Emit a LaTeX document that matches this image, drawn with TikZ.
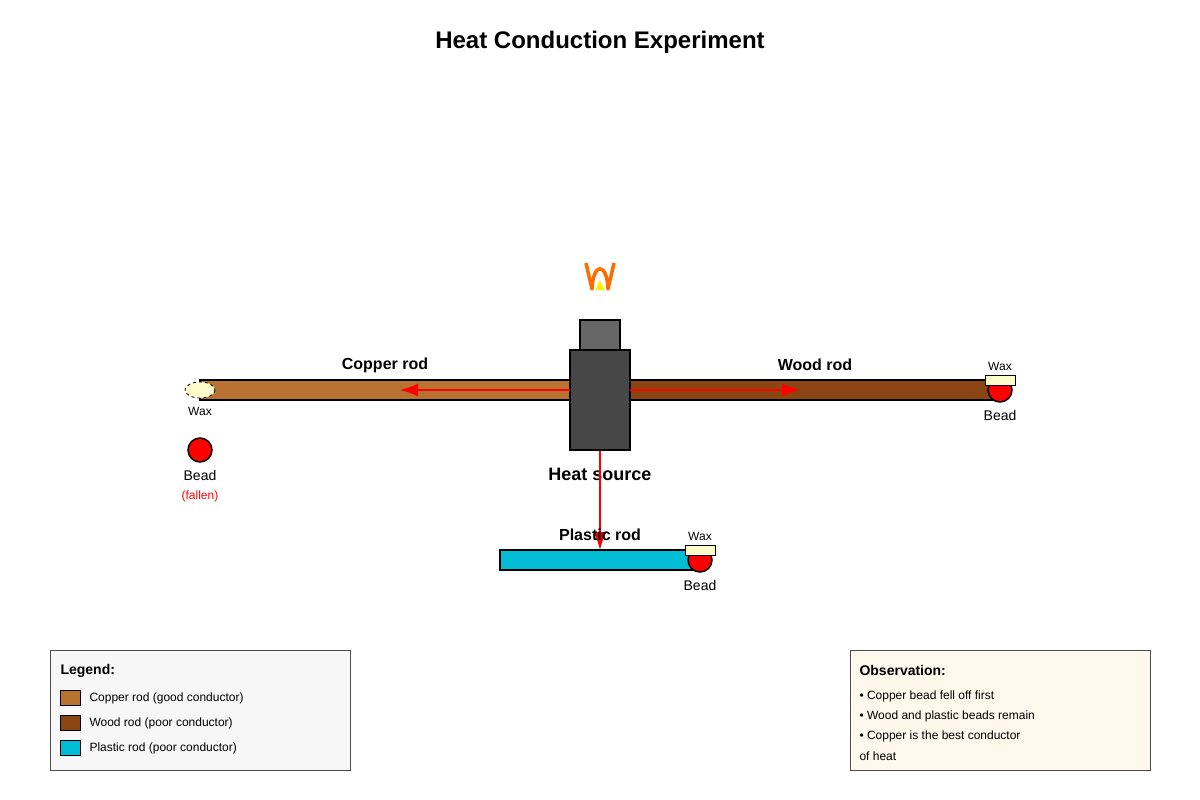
\documentclass[tikz,border=0pt]{standalone}
\usepackage{fontspec}
\setmainfont{Liberation Sans}
\usetikzlibrary{arrows.meta}
\begin{document}
\begin{tikzpicture}[x=1pt,y=-1pt,
 lbl/.style={font=\fontsize{16}{18}\selectfont\bfseries},
 sm/.style={font=\fontsize{14}{16}\selectfont},
 tiny/.style={font=\fontsize{12}{14}\selectfont},
 leg/.style={font=\fontsize{12}{14}\selectfont,anchor=west},
 rod/.style={draw=black,line width=1.5pt},
 bead/.style={circle,draw=black,line width=1.5pt,fill=red,minimum size=24pt,inner sep=0pt},
 wax/.style={draw=black,fill=yellow!20,line width=0.8pt},
 arr/.style={red,line width=1.5pt,-{Latex[length=18pt,width=13pt]}}]
\definecolor{copper}{HTML}{B87333}
\definecolor{wood}{HTML}{8B4513}
\definecolor{plastic}{HTML}{00BCD4}
\useasboundingbox (0,0) rectangle (1200,800);
\node[font=\fontsize{24}{28}\selectfont\bfseries] (title) at (600,42) {Heat Conduction Experiment};
% rods
\draw[rod,fill=copper] (200,380) rectangle (570,400);
\draw[rod,fill=wood] (630,380) rectangle (1000,400);
\draw[rod,fill=plastic] (500,550) rectangle (700,570);
\node[lbl] (cl) at (385,365) {Copper rod};
\node[lbl] (wl) at (815,365) {Wood rod};
% heat source
\draw[line width=1.5pt,fill=black!60] (580,320) rectangle (620,350);
\node[draw=black,line width=1.5pt,fill=black!72,minimum width=60pt,minimum height=100pt,inner sep=0pt] (hs) at (600,400) {};
\node[lbl,font=\fontsize{18}{20}\selectfont\bfseries] (hsl) at (600,474) {Heat source};
% flame
\draw[orange!85!red,line width=3.5pt,line join=round] (586,263) -- (592,289) .. controls (593,262) and (607,262) .. (608,289) -- (614,263);
\fill[yellow] (595.5,290) -- (600,280) -- (604.5,290) -- cycle;
% arrows
\coordinate (hl) at (570,390); \coordinate (hr) at (630,390);
\coordinate (al) at (400,390); \coordinate (ar) at (800,390); \coordinate (ad) at (600,550);
\draw[arr] (hl) -- (al);
\draw[arr] (hr) -- (ar);
\draw[arr] (hs.south) -- (ad);
\node[lbl] (pl) at (600,535) {Plastic rod};
% beads and wax
\node[bead] (b1) at (200,450) {};
\node[sm] at (200,475) {Bead};
\node[font=\fontsize{12}{14}\selectfont,text=red] at (200,496) {(fallen)};
\draw[wax,dashed] (200,390) ellipse (15 and 8);
\node[tiny] at (200,411) {Wax};
\node[bead] (b2) at (1000,390) {};
\draw[wax] (985,375) rectangle (1015,385);
\node[tiny] at (1000,366) {Wax};
\node[sm] at (1000,415) {Bead};
\node[bead] (b3) at (700,560) {};
\draw[wax] (685,545) rectangle (715,555);
\node[tiny] at (700,536) {Wax};
\node[sm] at (700,585) {Bead};
% legend
\draw[black!70,line width=1pt,fill=black!3] (50,650) rectangle (350,770);
\node[font=\fontsize{14}{16}\selectfont\bfseries,anchor=west] at (57,671) {Legend:};
\draw[line width=1pt,fill=copper] (60,690) rectangle (80,705);
\node[leg] at (86,698) {Copper rod (good conductor)};
\draw[line width=1pt,fill=wood] (60,715) rectangle (80,730);
\node[leg] at (86,723) {Wood rod (poor conductor)};
\draw[line width=1pt,fill=plastic] (60,740) rectangle (80,755);
\node[leg] at (86,748) {Plastic rod (poor conductor)};
% observation
\draw[black!70,line width=1pt,fill=yellow!12!orange!6] (850,650) rectangle (1150,770);
\node[font=\fontsize{14}{16}\selectfont\bfseries,anchor=west] at (856,670) {Observation:};
\node[leg] at (856,696) {• Copper bead fell off first};
\node[leg] at (856,716) {• Wood and plastic beads remain};
\node[leg] at (856,736) {• Copper is the best conductor};
\node[leg] at (856,756) {of heat};
\end{tikzpicture}
\end{document}
